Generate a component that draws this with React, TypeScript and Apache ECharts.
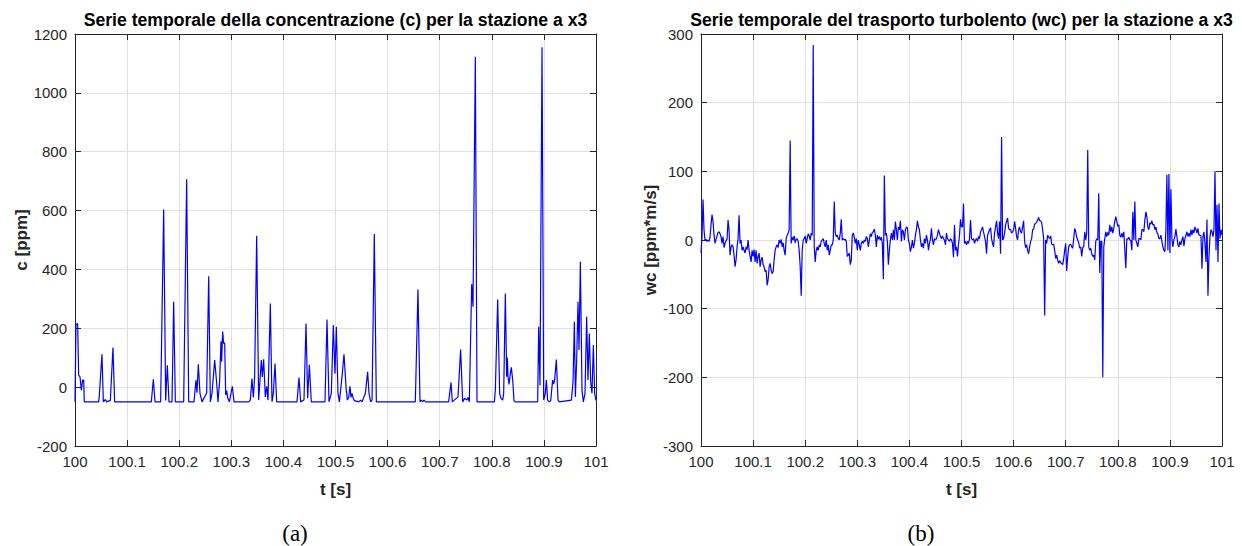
import React, { useEffect, useRef } from "react";
import * as echarts from "echarts";

// ---- Data: concentration c [ppm] at station x3 (time t [s], value) ----
const cTime = [
  100.0, 100.0019, 100.0051, 100.007, 100.0096, 100.0122, 100.0147, 100.0166, 100.0179,
  100.0454, 100.0467, 100.0518, 100.0544, 100.0582, 100.0608, 100.0678, 100.0729, 100.0761,
  100.1465, 100.1504, 100.1536, 100.1644, 100.1702, 100.174, 100.1772, 100.1804, 100.1862,
  100.1894, 100.1926, 100.2086, 100.2143, 100.2182, 100.2284, 100.2322, 100.2342, 100.2367,
  100.2399, 100.2438, 100.2527, 100.2566, 100.2598, 100.263, 100.2681, 100.2719, 100.2745,
  100.2777, 100.2802, 100.2815, 100.2834, 100.2854, 100.2873, 100.2892, 100.2911, 100.293,
  100.2962, 100.302, 100.3052, 100.3333, 100.3365, 100.3397, 100.3423, 100.3448, 100.3461,
  100.3487, 100.3525, 100.3551, 100.3576, 100.3596, 100.3621, 100.3653, 100.3679, 100.3704,
  100.3749, 100.3781, 100.3807, 100.3839, 100.3871, 100.4261, 100.4299, 100.4331, 100.4395,
  100.4434, 100.4466, 100.4498, 100.4536, 100.4798, 100.4837, 100.4875, 100.492, 100.4958,
  100.499, 100.5016, 100.5048, 100.5074, 100.5125, 100.5163, 100.5202, 100.5227, 100.5253,
  100.5278, 100.5298, 100.5317, 100.5336, 100.5362, 100.5445, 100.5483, 100.5509, 100.5573,
  100.5617, 100.5643, 100.5675, 100.5701, 100.5745, 100.5784, 100.6532, 100.6583, 100.6622,
  100.6647, 100.6673, 100.6699, 100.6731, 100.7172, 100.7217, 100.7242, 100.7351, 100.7402,
  100.7441, 100.7479, 100.7518, 100.7543, 100.7569, 100.7582, 100.7614, 100.7639, 100.7684,
  100.7716, 100.8049, 100.8068, 100.8113, 100.8151, 100.8177, 100.8209, 100.8228, 100.826,
  100.8285, 100.8298, 100.8311, 100.833, 100.8356, 100.8375, 100.8401, 100.8426, 100.8452,
  100.888, 100.89, 100.8925, 100.8964, 100.8996, 100.9028, 100.9047, 100.9072, 100.9104,
  100.913, 100.9168, 100.9187, 100.9206, 100.9239, 100.9271, 100.9296, 100.9527, 100.9559,
  100.9585, 100.9604, 100.9629, 100.9655, 100.9674, 100.97, 100.9731, 100.9757, 100.9789,
  100.9821, 100.9846, 100.9872, 100.9898, 100.9923, 100.9949, 100.9974, 101.0,
];
const cValues = [
  -50, 213, 216, 41, 35, -10, 24, 24, -50,
  -50, -27, 112, -50, -42, -50, -45, 135, -50,
  -50, 27, -50, -50, 604, -45, 74, -50, -50,
  290, -50, -50, 706, -50, -50, 24, -19, 78,
  -21, -50, -20, 377, -50, -21, 92, 15, -50,
  24, 156, 86, 189, 148, 150, -27, -12, -35,
  -50, 3, -50, -50, -44, 29, -35, 35, 35,
  514, -44, 24, 92, 35, 95, -33, 3, -44,
  284, -50, -21, 80, -50, -50, 33, -50, -44,
  216, -38, 76, -50, -50, 230, -50, -21, 211,
  46, 205, -21, -50, 35, 112, 1, -44, -35,
  3, -35, -21, -35, -46, -50, -44, -50, -21,
  52, -21, -50, -44, 520, -50, -50, 332, -50,
  -44, -49, -44, -50, -50, 16, -50, -33, 128,
  -50, -38, -44, -35, -50, -50, 350, 273, 1123,
  -50, -50, -10, 298, -21, -38, -44, -21, 318,
  35, 101, 37, 9, 46, 67, 24, -46, -50,
  -50, 205, 6, 1155, -44, -21, 24, -44, -50,
  -46, 24, 10, 24, 94, -44, -50, -44, 18,
  222, -33, 92, 290, 126, 426, -10, -50, -21,
  239, 24, 182, 18, -21, 143, -21, -45,
];

// ---- Data: turbulent transport wc [ppm*m/s], evenly spaced samples over 100..101 s ----
const wcStart = 100;
const wcEnd = 101;
const wcValues = [
  // 100.00 - 100.25
  -19, 5, 59, 15, -1, 1, -2, 0, -2, 4,
  22, 37, 27, 7, -5, 1, 6, 11, 12, 9,
  5, -5, 5, -11, -5, -1, 1, 29, 15, -22,
  -10, -7, -10, -22, -39, -29, -10, 2, 36, -5,
  0, -15, -10, -15, -19, -10, -14, 0, -15, -24,
  -32, -15, -24, -14, -32, -15, -34, -24, -19, -39,
  -29, -25, -36, -39, -46, -44, -66, -58, -39, -34,
  -44, -49, -46, -29, -15, -10, -7, -11, 0, -5,
  1, -10, -4, -15, -22, 2, 7, 10, 15, 145,
  -5, 4, 0, 6, -4, 1, 2, -2, -15, -39,
  -81, -15, 0, 2, 6, -5, 2, 9, 6, 0,
  10, 7, 284, -10, -32, -15, -10, -15, -7, -10,
  -2, 0, 2, -5, -10, 0, -15, -7, -22, -15, -7,
  // 100.25 - 100.50
  -7, 0, 56, 10, 5, 7, 2, 0, 10, 30,
  0, 2, 0, 1, -2, -24, -22, -19, -36, -29,
  7, 10, 4, -5, 2, -15, 0, -7, -15, -5,
  -2, -5, 0, -2, 5, 2, -10, 0, 9, 5,
  11, 12, 16, 7, -10, 7, 1, 5, 0, 4,
  -5, -57, 94, 7, 10, -2, -36, -15, 0, 10,
  0, 15, 0, 27, 15, 0, 19, 15, 28, -2,
  15, 12, 0, 15, 19, 18, 0, -5, -17, -10,
  0, -12, -5, 7, 15, 28, 19, 15, 0, -10,
  -5, -12, 2, -5, 7, 0, -15, -5, 1, 17,
  0, -7, 2, 0, 2, 7, 15, 10, 5, 2,
  6, 2, 0, -7, 10, 2, 0, -2, 2, 0,
  -5, -25, 22, -15, -10, -24, -7, 7, 30, 19,
  // 100.50 - 100.75
  19, 53, -5, -2, -7, -2, -5, 2, 29, 2,
  0, 2, -5, 0, 2, -2, 5, 2, 12, 15,
  19, 12, 5, -2, -20, 7, 11, 15, 18, 2,
  -5, -10, 10, 19, 28, 10, 2, 27, -20, 150,
  0, 2, 10, 22, 27, 32, 17, 15, 15, 10,
  12, 15, 27, 17, 5, 0, 15, 19, 12, 10,
  19, 28, -2, -11, -7, -15, -20, -10, -2, 2,
  15, 16, 23, 24, 26, 29, 33, 28, 28, 25,
  15, 2, -110, 0, -5, 7, 4, 2, 6, -6,
  -7, -6, -15, -27, -22, -29, -34, -30, -33, -34,
  -36, -27, -15, -5, -45, -24, -10, -7, -6, -10,
  -12, 2, 17, 12, 4, 0, -4, -12, -10, -24,
  -11, -10, 12, 0, 10, 131, -10, -15, -12, -20,
  // 100.75 - 101.00
  -24, -22, -29, -2, 2, 0, 68, -48, -2, -2,
  -200, -10, 2, 12, 5, 11, 7, 22, 12, 19,
  10, 17, 27, 34, 27, 20, 22, 7, 4, 10,
  4, 12, -15, -41, 2, 1, 4, 0, -1, -15,
  41, 0, 56, 0, -5, -10, 2, 2, 0, 15,
  15, 12, 29, 41, 34, 19, 15, 25, 23, 28,
  22, 23, 15, 19, 11, 9, 2, 2, 7, -2,
  -10, -15, -17, 15, 95, -15, 96, -19, 74, 2,
  -10, 0, 5, 16, 5, -7, -10, -2, -7, 0,
  5, -9, 2, 7, 12, 5, 10, 5, 15, 7,
  15, 10, 19, 15, 10, 17, 7, 7, 6, -42,
  5, 12, -5, -32, 30, -81, -24, 5, 15, 12,
  5, 15, 100, -15, 51, -32, 53, 2, 15, 7,
];

// ---- Axis / text definitions ----
const xMin = 100;
const xMax = 101;
const xStep = 0.1;
const cYMin = -200;
const cYMax = 1200;
const cYStep = 200;
const wcYMin = -300;
const wcYMax = 300;
const wcYStep = 100;

const titleA = "Serie temporale della concentrazione (c) per la stazione a x3";
const titleB = "Serie temporale del trasporto turbolento (wc) per la stazione a x3";
const xName = "t [s]";
const yNameA = "c [ppm]";
const yNameB = "wc [ppm*m/s]";
const captionA = "(a)";
const captionB = "(b)";

const W = 1242;
const H = 546;
const FONT = "'Liberation Sans', Helvetica, Arial, sans-serif";
const SERIF = "'Liberation Serif', 'DejaVu Serif', serif";
const AXIS = "#262626";
const GRID = "#e0e0e0";
const LINE = "#0000ff";

const grids = [
  { left: 75, top: 34, width: 521, height: 412 },
  { left: 701, top: 34, width: 521, height: 412 },
];

function xAxesFor(gridIndex: number) {
  const common = {
    type: "value" as const,
    gridIndex,
    min: xMin,
    max: xMax,
    interval: xStep,
    axisLine: { show: true, onZero: false, lineStyle: { color: AXIS, width: 1 } },
    axisTick: { show: true, inside: true, length: 6, lineStyle: { color: AXIS, width: 1 } },
  };
  return [
    {
      ...common,
      position: "bottom",
      name: xName,
      nameLocation: "middle",
      nameGap: 35,
      nameTextStyle: { fontFamily: FONT, fontSize: 17, fontWeight: "bold", color: AXIS },
      axisLabel: {
        margin: 8,
        fontFamily: FONT,
        fontSize: 15,
        color: AXIS,
        formatter: (v: number) => String(Math.round(v * 10) / 10),
      },
      splitLine: { show: true, lineStyle: { color: GRID, width: 1 } },
    },
    {
      ...common,
      position: "top",
      axisLabel: { show: false },
      splitLine: { show: false },
    },
  ];
}

function yAxesFor(gridIndex: number, min: number, max: number, step: number, name: string) {
  const common = {
    type: "value" as const,
    gridIndex,
    min,
    max,
    interval: step,
    axisLine: { show: true, onZero: false, lineStyle: { color: AXIS, width: 1 } },
    axisTick: { show: true, inside: true, length: 6, lineStyle: { color: AXIS, width: 1 } },
  };
  return [
    {
      ...common,
      position: "left",
      name,
      nameLocation: "middle",
      nameGap: 35,
      nameTextStyle: { fontFamily: FONT, fontSize: 17, fontWeight: "bold", color: AXIS },
      axisLabel: {
        margin: 8,
        fontFamily: FONT,
        fontSize: 15,
        color: AXIS,
        formatter: (v: number) => String(v),
      },
      splitLine: { show: true, lineStyle: { color: GRID, width: 1 } },
    },
    {
      ...common,
      position: "right",
      axisLabel: { show: false },
      splitLine: { show: false },
    },
  ];
}

export default function App() {
  const ref = useRef<HTMLDivElement>(null);

  useEffect(() => {
    if (!ref.current) return;
    const chart = echarts.init(ref.current, null, { renderer: "svg", width: W, height: H });

    const cData = cTime.map((t, i) => [t, cValues[i]]);
    const n = wcValues.length;
    const wcData = wcValues.map((v, i) => [wcStart + ((wcEnd - wcStart) * i) / (n - 1), v]);

    const centerA = grids[0].left + grids[0].width / 2;
    const centerB = grids[1].left + grids[1].width / 2;

    chart.setOption({
      animation: false,
      backgroundColor: "#ffffff",
      grid: grids,
      xAxis: [...xAxesFor(0), ...xAxesFor(1)],
      yAxis: [
        ...yAxesFor(0, cYMin, cYMax, cYStep, yNameA),
        ...yAxesFor(1, wcYMin, wcYMax, wcYStep, yNameB),
      ],
      series: [
        {
          type: "line",
          xAxisIndex: 0,
          yAxisIndex: 0,
          data: cData,
          showSymbol: false,
          symbol: "none",
          silent: true,
          lineStyle: { color: LINE, width: 1.2 },
        },
        {
          type: "line",
          xAxisIndex: 2,
          yAxisIndex: 2,
          data: wcData,
          showSymbol: false,
          symbol: "none",
          silent: true,
          lineStyle: { color: LINE, width: 1.2 },
        },
      ],
      graphic: [
        {
          type: "text",
          x: centerA,
          y: 20,
          style: {
            text: titleA,
            fontFamily: FONT,
            fontSize: 17.6,
            fontWeight: "bold",
            fill: "#000",
            align: "center",
            verticalAlign: "middle",
          },
        },
        {
          type: "text",
          x: centerB,
          y: 20,
          style: {
            text: titleB,
            fontFamily: FONT,
            fontSize: 17.6,
            fontWeight: "bold",
            fill: "#000",
            align: "center",
            verticalAlign: "middle",
          },
        },
        {
          type: "text",
          x: 295,
          y: 533,
          style: {
            text: captionA,
            fontFamily: SERIF,
            fontSize: 23,
            fill: "#000",
            align: "center",
            verticalAlign: "middle",
          },
        },
        {
          type: "text",
          x: 921,
          y: 533,
          style: {
            text: captionB,
            fontFamily: SERIF,
            fontSize: 23,
            fill: "#000",
            align: "center",
            verticalAlign: "middle",
          },
        },
      ],
    });

    return () => chart.dispose();
  }, []);

  return (
    <div
      ref={ref}
      style={{ position: "fixed", left: 0, top: 0, width: W, height: H, background: "#fff" }}
    />
  );
}
